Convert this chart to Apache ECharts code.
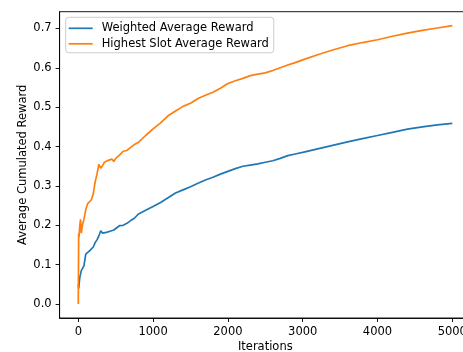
<!DOCTYPE html>
<html>
<head>
<meta charset="utf-8">
<script src="https://cdn.jsdelivr.net/npm/echarts@6/dist/echarts.min.js"></script>
<style>html,body{margin:0;padding:0;background:#fff;}#c{width:463px;height:352px;}</style>
</head>
<body>
<div id="c"></div>
<script>
const iterations = [0, 5, 10, 20, 30, 40, 55, 75, 100, 125, 150, 175, 200, 225, 250, 275, 300, 325, 350, 375, 400, 425, 450, 475, 500, 550, 600, 650, 700, 750, 800, 900, 1000, 1100, 1200, 1300, 1400, 1500, 1600, 1700, 1800, 1900, 2000, 2100, 2200, 2300, 2400, 2500, 2600, 2700, 2800, 2900, 3000, 3200, 3400, 3600, 3800, 4000, 4200, 4400, 4600, 4800, 5000];
const weightedAvg = [0.05, 0.04, 0.045, 0.068, 0.076, 0.085, 0.08, 0.097, 0.127, 0.13, 0.135, 0.14, 0.145, 0.156, 0.163, 0.173, 0.186, 0.18, 0.183, 0.182, 0.187, 0.185, 0.19, 0.188, 0.192, 0.199, 0.2, 0.205, 0.212, 0.218, 0.228, 0.238, 0.248, 0.258, 0.27, 0.282, 0.29, 0.298, 0.307, 0.315, 0.322, 0.33, 0.337, 0.344, 0.35, 0.353, 0.356, 0.36, 0.364, 0.37, 0.377, 0.381, 0.385, 0.394, 0.403, 0.412, 0.42, 0.428, 0.436, 0.444, 0.45, 0.455, 0.459];
const highestSlot = [0, 0.18, 0.17, 0.2, 0.215, 0.18, 0.2, 0.215, 0.24, 0.255, 0.26, 0.265, 0.28, 0.31, 0.33, 0.355, 0.345, 0.352, 0.36, 0.358, 0.365, 0.362, 0.368, 0.362, 0.37, 0.378, 0.388, 0.39, 0.398, 0.405, 0.41, 0.428, 0.445, 0.46, 0.478, 0.49, 0.502, 0.51, 0.522, 0.53, 0.538, 0.548, 0.56, 0.567, 0.573, 0.58, 0.584, 0.587, 0.593, 0.6, 0.607, 0.613, 0.62, 0.633, 0.645, 0.656, 0.664, 0.671, 0.68, 0.688, 0.695, 0.701, 0.707];
const seriesNames = ['Weighted Average Reward', 'Highest Slot Average Reward'];
const xTicks = [0, 1000, 2000, 3000, 4000, 5000];
const yTicks = [0, 0.1, 0.2, 0.3, 0.4, 0.5, 0.6, 0.7];

const font = 'DejaVu Sans';
const fs = 11.5;
const chart = echarts.init(document.getElementById('c'), null, {renderer: 'canvas'});
const pairs = ys => iterations.map((x, i) => [x, ys[i]]);
chart.setOption({
  animation: false,
  backgroundColor: '#fff',
  textStyle: {fontFamily: font},
  grid: {left: 59.6, top: 11.7, width: 411.4, height: 306.3, show: true, borderColor: '#000', borderWidth: 0.9, containLabel: false, outerBoundsMode: 'none'},
  legend: {
    orient: 'vertical', left: 65.7, top: 17.3,
    data: seriesNames,
    icon: 'rect', itemWidth: 24, itemHeight: 1.7, itemGap: 3.5,
    padding: [5, 5, 3, 3],
    borderColor: '#cccccc', borderWidth: 1, borderRadius: 3,
    backgroundColor: 'rgba(255,255,255,0.8)',
    textStyle: {fontFamily: font, fontSize: fs, color: '#000', padding: [0, 0, 0, 4]}
  },
  xAxis: {
    type: 'value', min: -250, max: 5250,
    name: 'Iterations', nameLocation: 'middle', nameGap: 23, nameMoveOverlap: false,
    nameTextStyle: {fontFamily: font, fontSize: fs, color: '#000'},
    axisLine: {show: true, onZero: false, lineStyle: {color: '#000', width: 0.9}},
    axisTick: {show: true, inside: false, length: 4, lineStyle: {color: '#000', width: 0.9}, customValues: xTicks},
    axisLabel: {fontFamily: font, fontSize: fs, color: '#000', margin: 8, customValues: xTicks, formatter: v => String(v)},
    splitLine: {show: false}
  },
  yAxis: {
    type: 'value', min: -0.0353, max: 0.7423,
    name: 'Average Cumulated Reward', nameLocation: 'middle', nameGap: 31, nameRotate: 90, nameMoveOverlap: false,
    nameTextStyle: {fontFamily: font, fontSize: fs, color: '#000'},
    axisLine: {show: true, onZero: false, lineStyle: {color: '#000', width: 0.9}},
    axisTick: {show: true, inside: false, length: 4, lineStyle: {color: '#000', width: 0.9}, customValues: yTicks},
    axisLabel: {fontFamily: font, fontSize: fs, color: '#000', margin: 8, customValues: yTicks, formatter: v => v.toFixed(1)},
    splitLine: {show: false}
  },
  series: [
    {name: seriesNames[0], type: 'line', data: pairs(weightedAvg), symbol: 'none', lineStyle: {color: '#1f77b4', width: 1.7}, itemStyle: {color: '#1f77b4'}},
    {name: seriesNames[1], type: 'line', data: pairs(highestSlot), symbol: 'none', lineStyle: {color: '#ff7f0e', width: 1.7}, itemStyle: {color: '#ff7f0e'}}
  ]
});
</script>
</body>
</html>
